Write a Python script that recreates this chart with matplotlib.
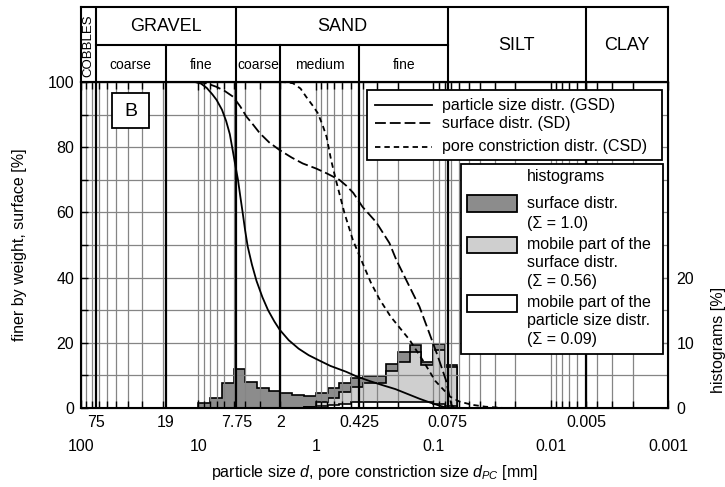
import numpy as np
import matplotlib
matplotlib.use('Agg')
import matplotlib.pyplot as plt
from matplotlib.patches import Rectangle
from matplotlib.lines import Line2D
from matplotlib.ticker import NullFormatter, NullLocator, LogLocator
import matplotlib.transforms as mtransforms

plt.rcParams['font.family'] = ['Liberation Sans', 'DejaVu Sans']
plt.rcParams['mathtext.fontset'] = 'custom'
plt.rcParams['mathtext.rm'] = 'Liberation Sans'
plt.rcParams['mathtext.it'] = 'Liberation Sans:italic'

# ---------------- data ----------------
gsd_d = [10.7, 9.5, 8.5, 7.6, 7.0, 6.3, 5.8, 5.4, 5.1, 4.85, 4.6, 4.4, 4.2, 4.0, 3.8, 3.5, 3.2,
         2.85, 2.55, 2.25, 2.03, 1.7, 1.4, 1.15, 0.95, 0.75, 0.55, 0.45, 0.35, 0.27, 0.21,
         0.16, 0.13, 0.105, 0.09, 0.075]
gsd_y = [100, 99.5, 98.2, 96.2, 94.5, 91.5, 88.0, 84.0, 79.0, 74.5, 70.0, 65.0, 60.0, 54.5, 49.5,
         44.0, 39.0, 34.0, 30.0, 26.5, 24.0, 20.8, 18.2, 16.2, 14.7, 12.9, 11.1, 9.7, 8.3, 7.0,
         5.8, 4.1, 2.8, 1.6, 0.8, 0.0]

sd_d = [10.5, 8.5, 7.0, 6.0, 5.07, 4.4, 3.9, 3.4, 3.0, 2.5, 2.03, 1.6, 1.29, 1.0, 0.81, 0.63,
        0.55, 0.48, 0.40, 0.306, 0.236, 0.206, 0.159, 0.131, 0.108, 0.091, 0.078, 0.070, 0.066]
sd_y = [100, 99.6, 98.5, 97.3, 95.5, 92.5, 89.4, 86.8, 84.3, 81.5, 79.1, 76.8, 75.0, 73.5, 72.0,
        70.0, 68.2, 66.0, 61.7, 57.0, 50.6, 45.4, 37.2, 31.1, 23.0, 15.7, 8.6, 1.0, 0.0]

csd_d = [2.0, 1.75, 1.56, 1.35, 1.21, 1.05, 0.96, 0.87, 0.81, 0.74, 0.675, 0.57, 0.483, 0.41,
         0.34, 0.288, 0.23, 0.159, 0.123, 0.096, 0.072, 0.060, 0.047, 0.036, 0.025]
csd_y = [100, 99.9, 99.6, 98.0, 95.5, 92.5, 90.4, 86.5, 83.2, 76.0, 70.0, 59.8, 51.5, 45.4,
         38.5, 33.5, 28.0, 20.9, 14.7, 8.3, 3.5, 2.0, 1.0, 0.4, 0.0]

bin_edges = [10.0, 7.94, 6.31, 5.01, 3.98, 3.16, 2.51, 2.0, 1.585, 1.259, 1.0, 0.794,
             0.631, 0.501, 0.398, 0.316, 0.251, 0.2, 0.158, 0.126, 0.1, 0.0794, 0.063]
hist_surface = [0.7, 1.5, 3.8, 6.0, 4.05, 3.0, 2.55, 2.25, 2.0, 1.8, 2.25, 3.0,
                3.8, 4.6, 4.9, 4.9, 6.75, 8.6, 9.6, 7.0, 9.8, 6.6]
mobile_start = 9
hist_mobile_surface = [0.15, 0.9, 1.6, 2.45, 3.25, 3.9, 3.9, 5.65, 7.1, 8.55, 6.6, 8.9, 6.35]
hist_mobile_gsd = [0.15, 0.25, 0.5, 0.65, 0.85, 0.9, 0.9, 0.95, 0.95, 0.9, 0.9, 0.6, 0.3]

boundaries = [75, 19, 4.75, 2, 0.425, 0.075, 0.005]
boundary_labels = ['75', '19', '7.75', '2', '0.425', '0.075', '0.005']
decades = [100, 10, 1, 0.1, 0.01, 0.001]
decade_labels = ['100', '10', '1', '0.1', '0.01', '0.001']

# ---------------- figure ----------------
W, H = 725, 487
fig = plt.figure(figsize=(W / 100, H / 100), dpi=100)
L, R = 81 / W, 668 / W
B, T = 1 - 408 / H, 1 - 82 / H
TOP = 1 - 7 / H

ax = fig.add_axes([L, B, R - L, T - B])
ax2 = ax.twinx()
ax.set_zorder(ax2.get_zorder() + 1)
ax.patch.set_visible(False)

ax.set_xscale('log')
ax.set_xlim(100, 0.001)
ax.set_ylim(0, 100)
ax2.set_ylim(0, 50)

grid_c = '#858585'
# histograms (right axis)
e = np.array(bin_edges)
ax2.stairs(np.array(hist_surface)[::-1], e[::-1], fill=True, facecolor='#8c8c8c',
           edgecolor='black', linewidth=1.2, baseline=0)
e2 = e[mobile_start:]
ax2.stairs(np.array(hist_mobile_surface)[::-1], e2[::-1], fill=True, facecolor='#cfcfcf',
           edgecolor='black', linewidth=1.2, baseline=0)
ax2.stairs(np.array(hist_mobile_gsd)[::-1], e2[::-1], fill=True, facecolor='white',
           edgecolor='black', linewidth=1.2, baseline=0)

# grid
ax.set_yticks([0, 20, 40, 60, 80, 100])
ax.set_yticks(np.arange(0, 101, 10), minor=True)
ax.set_xticks(decades)
ax.set_xticklabels(decade_labels)
ax.xaxis.set_minor_locator(LogLocator(base=10, subs=np.arange(2, 10)))
ax.xaxis.set_minor_formatter(NullFormatter())
ax.grid(True, which='both', color=grid_c, linewidth=0.9)
ax.set_axisbelow(True)
for b in boundaries:
    ax.axvline(b, color='black', linewidth=1.6, zorder=1.5)

# curves
ax.plot(gsd_d, gsd_y, color='black', linewidth=1.3, zorder=3)
ax.plot(sd_d, sd_y, color='black', linewidth=1.3, dashes=(6, 2.2), zorder=3)
ax.plot(csd_d, csd_y, color='black', linewidth=1.3, dashes=(3, 2.2), zorder=3)

# ticks
ax.tick_params(axis='both', which='both', direction='in', top=True, bottom=True, left=True, right=False,
               labelsize=11.5, width=1.0)
ax.tick_params(axis='x', which='major', length=6, pad=22)
ax.tick_params(axis='x', which='minor', length=5)
ax.tick_params(axis='y', which='both', length=5, pad=5)
ax2.set_yticks([0, 10, 20])
ax2.set_yticks([5, 15], minor=True)
ax2.tick_params(axis='y', which='both', direction='in', length=5, labelsize=11.5, pad=6)
for s in ax.spines.values():
    s.set_linewidth(1.5)

# boundary tick labels (first row)
trans = mtransforms.blended_transform_factory(ax.transData, ax.transAxes)
for b, lbl in zip(boundaries, boundary_labels):
    ax.text(b, -0.022, lbl, transform=trans, ha='center', va='top', fontsize=11.5)

fig.text(375 / W, 1 - 472 / H, r'particle size $d$, pore constriction size $d_{PC}$ [mm]',
         ha='center', va='center', fontsize=11.5)
fig.text(20 / W, 1 - 245 / H, 'finer by weight, surface [%]', rotation=90,
         ha='center', va='center', fontsize=11.5)
fig.text(718 / W, 1 - 340 / H, 'histograms [%]', rotation=90,
         ha='center', va='center', fontsize=11.5)

# ---------------- legend 1 ----------------
ax.add_patch(Rectangle((0.4867, 0.7607), 0.5026, 0.2148, transform=ax.transAxes,
                       facecolor='white', edgecolor='black', linewidth=1.3, zorder=10))
leg_rows = [(0.9294, 'particle size distr. (GSD)', None),
            (0.8733, 'surface distr. (SD)', (6, 2.2)),
            (0.8015, 'pore constriction distr. (CSD)', (3, 2.2))]
for yy, txt, dsh in leg_rows:
    ln = Line2D([0.5009, 0.598], [yy, yy], transform=ax.transAxes, color='black',
                linewidth=1.3, zorder=11)
    if dsh:
        ln.set_dashes(dsh)
    ax.add_line(ln)
    ax.text(0.6145, yy, txt, transform=ax.transAxes, fontsize=11.5, va='center', ha='left', zorder=11)

# ---------------- legend 2 ----------------
ax.add_patch(Rectangle((0.6469, 0.1656), 0.3451, 0.5829, transform=ax.transAxes,
                       facecolor='white', edgecolor='black', linewidth=1.3, zorder=10))
ax.text(0.7593, 0.7095, 'histograms', transform=ax.transAxes, fontsize=11.5, va='center', zorder=11)
for y0, fc in [(0.6022, '#8c8c8c'), (0.4745, '#cfcfcf'), (0.2954, 'white')]:
    ax.add_patch(Rectangle((0.6581, y0), 0.0842, 0.0512, transform=ax.transAxes,
                           facecolor=fc, edgecolor='black', linewidth=1.3, zorder=11))
leg2_texts = [(0.6258, 'surface distr.'), (0.5665, '(\u03a3 = 1.0)'),
              (0.5000, 'mobile part of the'), (0.4457, 'surface distr.'), (0.3874, '(\u03a3 = 0.56)'),
              (0.3230, 'mobile part of the'), (0.2678, 'particle size distr.'), (0.2086, '(\u03a3 = 0.09)')]
for yy, txt in leg2_texts:
    ax.text(0.7593, yy, txt, transform=ax.transAxes, fontsize=11.5, va='center', ha='left', zorder=11)

# panel letter
ax.add_patch(Rectangle((0.0523, 0.858), 0.064, 0.1074, transform=ax.transAxes,
                       facecolor='white', edgecolor='black', linewidth=1.3, zorder=10))
ax.text(0.0843, 0.911, 'B', transform=ax.transAxes, fontsize=14, ha='center', va='center', zorder=11)

# ---------------- classification band ----------------
band = fig.add_axes([L, T, R - L, TOP - T])
band.set_xscale('log')
band.set_xlim(100, 0.001)
band.set_ylim(0, 1)
band.xaxis.set_major_locator(NullLocator())
band.xaxis.set_minor_locator(NullLocator())
band.set_yticks([])
for s in band.spines.values():
    s.set_linewidth(1.5)
full = [75, 4.75, 0.075, 0.005]
half = [19, 2, 0.425]
for b in full:
    band.axvline(b, color='black', linewidth=1.5)
for b in half:
    band.plot([b, b], [0, 0.5], color='black', linewidth=1.5)
band.plot([75, 0.075], [0.5, 0.5], color='black', linewidth=1.5)

band.text(np.sqrt(100 * 75), 0.49, 'COBBLES', rotation=90, ha='center', va='center', fontsize=9.5)
band.text(np.sqrt(75 * 4.75), 0.74, 'GRAVEL', ha='center', va='center', fontsize=13)
band.text(np.sqrt(4.75 * 0.075), 0.74, 'SAND', ha='center', va='center', fontsize=13)
band.text(np.sqrt(0.075 * 0.005), 0.48, 'SILT', ha='center', va='center', fontsize=13)
band.text(np.sqrt(0.005 * 0.001), 0.48, 'CLAY', ha='center', va='center', fontsize=13)
subs = [(75, 19, 'coarse'), (19, 4.75, 'fine'), (4.75, 2, 'coarse'), (2, 0.425, 'medium'), (0.425, 0.075, 'fine')]
for a, b, t in subs:
    band.text(np.sqrt(a * b), 0.23, t, ha='center', va='center', fontsize=10)

fig.savefig('out.png', dpi=100)
